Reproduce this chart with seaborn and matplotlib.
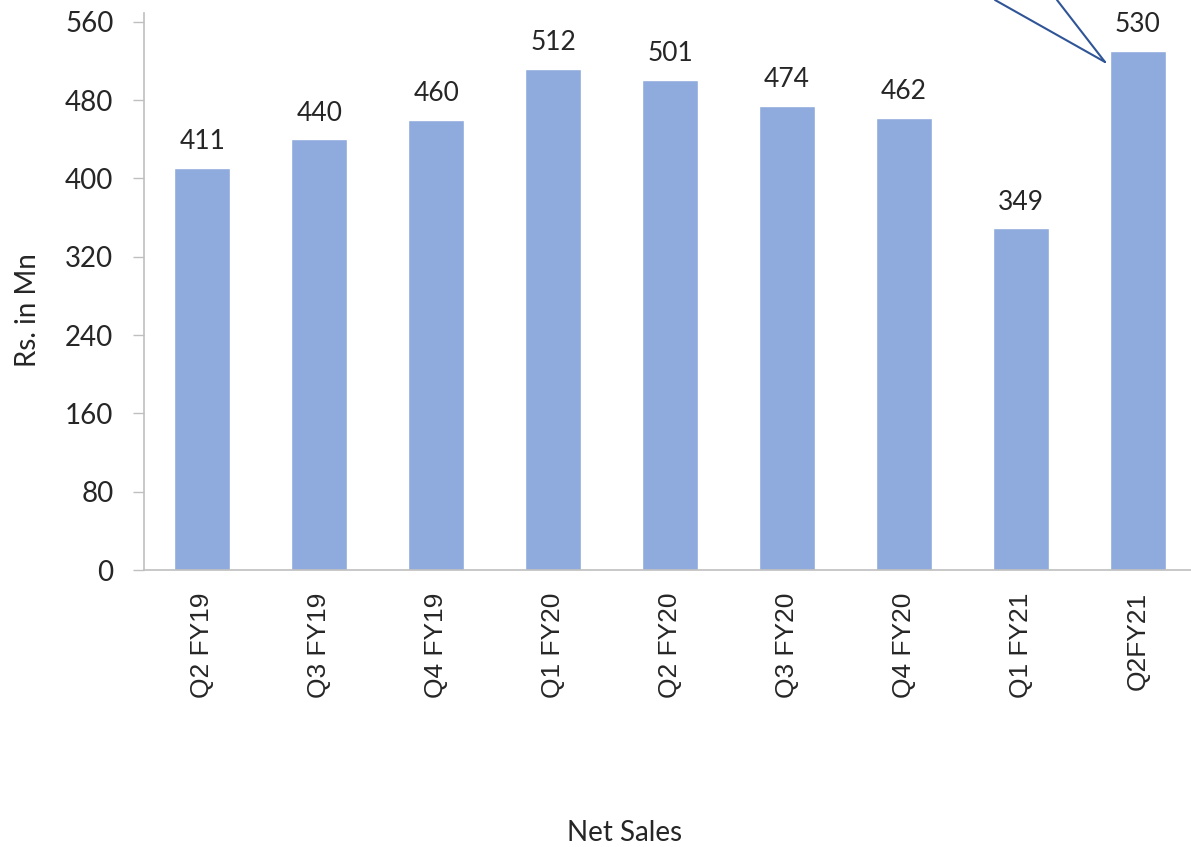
import numpy as np
import pandas as pd
import seaborn as sns
from matplotlib import pyplot as plt

quarters = ["Q2 FY19", "Q3 FY19", "Q4 FY19", "Q1 FY20", "Q2 FY20",
            "Q3 FY20", "Q4 FY20", "Q1 FY21", "Q2FY21"]
net_sales = [411, 440, 460, 512, 501, 474, 462, 349, 530]
y_ticks = [0, 80, 160, 240, 320, 400, 480, 560]

sns.set_style("white")
plt.rcParams["font.family"] = ["Lato", "DejaVu Sans"]

df = pd.DataFrame({"Quarter": quarters, "Sales": net_sales})

fig = plt.figure(figsize=(11.91, 8.47), dpi=100)
ax = fig.add_axes([144 / 1191, 1 - 570 / 847, 1052 / 1191, 557 / 847])

sns.barplot(data=df, x="Quarter", y="Sales", color="#8FAADC", saturation=1,
            width=0.48, ax=ax)

for i, v in enumerate(net_sales):
    ax.text(i, v + 14, str(v), ha="center", va="bottom", fontsize=19)

ax.set_xlim(-0.5, 8.5)
ax.set_ylim(0, 569)
ax.set_yticks(y_ticks)
ax.set_yticklabels([str(t) for t in y_ticks], fontsize=20)
ax.set_xticks(range(len(quarters)))
ax.set_xticklabels(quarters, rotation=90, fontsize=19,
                   family=["Liberation Sans", "DejaVu Sans"])
ax.tick_params(axis="y", length=8, width=1, color="#BFBFBF", left=True, pad=14)
ax.tick_params(axis="x", length=0, pad=16)
ax.set_xlabel("")
ax.set_ylabel("")

for s in ["top", "right"]:
    ax.spines[s].set_visible(False)
for s in ["left", "bottom"]:
    ax.spines[s].set_color("#BFBFBF")
    ax.spines[s].set_linewidth(1.2)

fig.text(28 / 1191, 1 - 310 / 847, "Rs. in Mn", rotation=90, ha="center",
         va="center", fontsize=20)
fig.text(625 / 1191, 1 - 833 / 847, "Net Sales", ha="center", va="center",
         fontsize=20)

# callout pointer to the last bar
tip = (1105 / 1191, 1 - 62 / 847)
for x0 in [995, 1057]:
    fig.add_artist(plt.Line2D([x0 / 1191, tip[0]], [1.0, tip[1]],
                              color="#2F5597", lw=1.5))

fig.savefig("out.png", dpi=100)
